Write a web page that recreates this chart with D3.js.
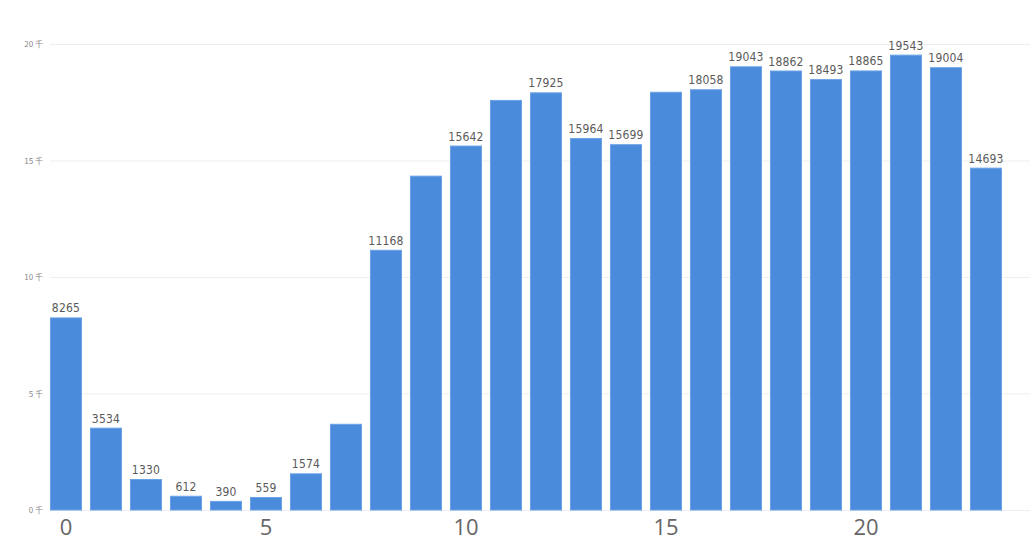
<!DOCTYPE html>
<html>
<head>
<meta charset="utf-8">
<script src="https://cdn.jsdelivr.net/npm/d3@7"></script>
<style>
  body { margin: 0; background: #fff; }
  svg { display: block; }
</style>
</head>
<body>
<svg width="1034" height="540"></svg>
<script>
// hour of day
var hours = d3.range(0, 24);
// counts per hour (values without labels)
var counts = [8265, 3534, 1330, 612, 390, 559, 1574, 3700, 11168, 14350, 15642, 17600,
  17925, 15964, 15699, 17950, 18058, 19043, 18862, 18493, 18865, 19543, 19004, 14693];
// which bars carry a data label in the original
var showLabel = [1, 1, 1, 1, 1, 1, 1, 0, 1, 0, 1, 0, 1, 1, 1, 0, 1, 1, 1, 1, 1, 1, 1, 1];
var yTicks = [0, 5000, 10000, 15000, 20000];
var xTicks = [0, 5, 10, 15, 20];

var svg = d3.select("svg");

var x = d3.scaleBand().domain(hours).range([46, 1006]).paddingInner(0.2).paddingOuter(0.1);
var y = d3.scaleLinear().domain([0, 20000]).range([510, 44]);

// gridlines
svg.append("g")
  .selectAll("line")
  .data(yTicks)
  .enter()
  .append("line")
  .attr("x1", 50)
  .attr("x2", 1030)
  .attr("y1", function (d) { return y(d) + 0.5; })
  .attr("y2", function (d) { return y(d) + 0.5; })
  .attr("stroke", "#eeeeee")
  .attr("stroke-width", 1);

// y labels
svg.append("g")
  .selectAll("text")
  .data(yTicks)
  .enter()
  .append("text")
  .attr("x", 43)
  .attr("y", function (d) { return y(d) + 3; })
  .attr("text-anchor", "end")
  .attr("font-family", "'Noto Sans CJK SC', sans-serif")
  .attr("font-size", "8px")
  .attr("fill", "#888")
  .text(function (d) { return (d / 1000) + " 千"; });

// bars
svg.append("g")
  .selectAll("rect")
  .data(counts)
  .enter()
  .append("rect")
  .attr("x", function (d, i) { return x(hours[i]) + 0.5; })
  .attr("y", function (d) { return y(d) + 0.5; })
  .attr("width", x.bandwidth() - 1)
  .attr("height", function (d) { return y(0) - y(d) - 0.5; })
  .attr("fill", "#4a8bdc")
  .attr("stroke", "#6aa2e6")
  .attr("stroke-width", 1);

// data labels
svg.append("g")
  .selectAll("text")
  .data(counts.map(function (d, i) { return { h: hours[i], v: d, s: showLabel[i] }; })
    .filter(function (d) { return d.s; }))
  .enter()
  .append("text")
  .attr("x", function (d) { return x(d.h) + x.bandwidth() / 2; })
  .attr("y", function (d) { return y(d.v) - 5; })
  .attr("text-anchor", "middle")
  .attr("font-family", "'DejaVu Sans Condensed', 'DejaVu Sans', sans-serif")
  .attr("font-size", "12px")
  .attr("letter-spacing", "0.2px")
  .attr("fill", "#5a5a5a")
  .text(function (d) { return d.v; });

// x labels
svg.append("g")
  .selectAll("text")
  .data(xTicks)
  .enter()
  .append("text")
  .attr("x", function (d) { return x(d) + x.bandwidth() / 2; })
  .attr("y", 535)
  .attr("text-anchor", "middle")
  .attr("font-family", "'Open Sans', sans-serif")
  .attr("font-size", "22px")
  .attr("fill", "#666")
  .text(function (d) { return d; });
</script>
</body>
</html>
